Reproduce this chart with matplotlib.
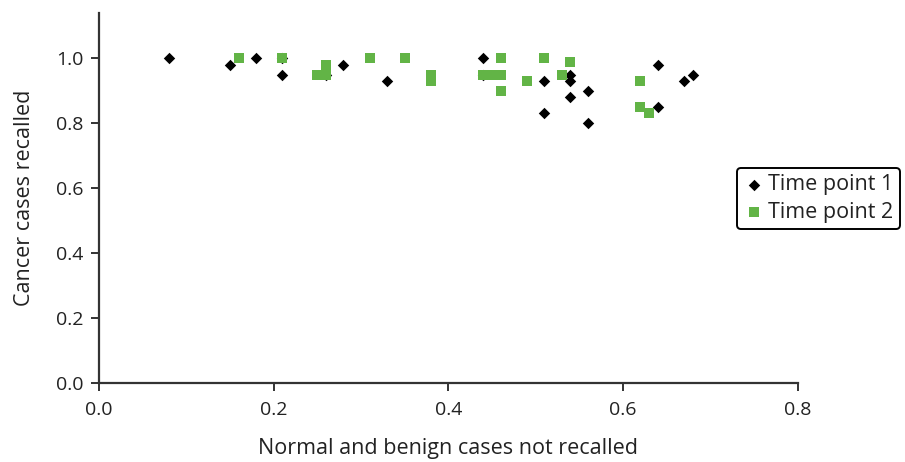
import matplotlib.pyplot as plt

# recall data
tp1_x = [0.08, 0.15, 0.18, 0.21, 0.21, 0.26, 0.28, 0.33, 0.44, 0.44, 0.51,
         0.51, 0.54, 0.54, 0.54, 0.56, 0.56, 0.64, 0.64, 0.67, 0.68]
tp1_y = [1.00, 0.98, 1.00, 1.00, 0.95, 0.95, 0.98, 0.93, 1.00, 0.95, 0.93,
         0.83, 0.95, 0.93, 0.88, 0.90, 0.80, 0.98, 0.85, 0.93, 0.95]

tp2_x = [0.16, 0.21, 0.25, 0.26, 0.26, 0.31, 0.35, 0.38, 0.38, 0.44, 0.45,
         0.46, 0.46, 0.46, 0.49, 0.51, 0.53, 0.54, 0.62, 0.62, 0.63]
tp2_y = [1.00, 1.00, 0.95, 0.98, 0.95, 1.00, 1.00, 0.95, 0.93, 0.95, 0.95,
         0.95, 1.00, 0.90, 0.93, 1.00, 0.95, 0.99, 0.93, 0.85, 0.83]

xticks = [0.0, 0.2, 0.4, 0.6, 0.8]
yticks = [0.0, 0.2, 0.4, 0.6, 0.8, 1.0]

font = 'Open Sans'
txt = '#222222'

fig = plt.figure(figsize=(9.05, 4.62), dpi=100)
ax = fig.add_axes([99 / 905, 1 - 382.5 / 462, 698.5 / 905, (382.5 - 13.3) / 462])

ax.scatter(tp1_x, tp1_y, marker='D', s=34, color='black', lw=0,
           label='Time point 1', zorder=3)
ax.scatter(tp2_x, tp2_y, marker='s', s=60, color='#62b446', lw=0,
           label='Time point 2', zorder=4)

ax.set_xlim(0, 0.8)
ax.set_ylim(0, 1.139)
ax.set_xticks(xticks)
ax.set_yticks(yticks)
ax.set_xticklabels(['%.1f' % v for v in xticks], fontfamily=font, fontsize=14)
ax.set_yticklabels(['%.1f' % v for v in yticks], fontfamily=font, fontsize=14)
ax.tick_params(direction='out', length=6, width=1.4, color='#333333',
               labelcolor=txt)
ax.tick_params(axis='x', pad=7)
ax.tick_params(axis='y', pad=5)

for s in ['top', 'right']:
    ax.spines[s].set_visible(False)
for s in ['left', 'bottom']:
    ax.spines[s].set_color('#333333')
    ax.spines[s].set_linewidth(1.6)

ax.set_xlabel('Normal and benign cases not recalled', fontfamily=font,
              fontsize=15.5, color=txt, labelpad=14)
ax.set_ylabel('Cancer cases recalled', fontfamily=font,
              fontsize=15.5, color=txt, labelpad=15)

leg = ax.legend(loc='upper left', bbox_to_anchor=(737 / 905, 1 - 168 / 462),
                bbox_transform=fig.transFigure, borderaxespad=0,
                prop={'family': font, 'size': 15.5}, handletextpad=0.15,
                handlelength=1.0, borderpad=0.3, labelspacing=0.3,
                fancybox=True, framealpha=1)
leg.get_frame().set_edgecolor('black')
leg.get_frame().set_linewidth(1.4)
for t in leg.get_texts():
    t.set_color(txt)

fig.savefig('out.png', dpi=100)
